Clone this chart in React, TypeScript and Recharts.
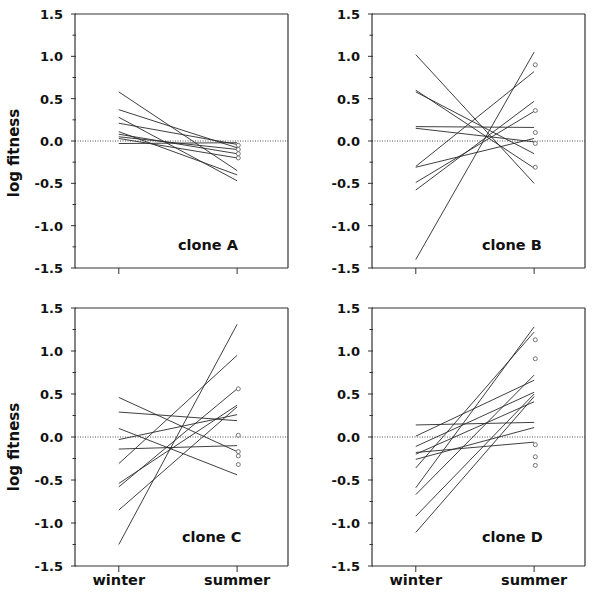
import React from 'react';
import { ComposedChart, Line, Scatter, XAxis, YAxis, ReferenceLine } from 'recharts';

// log fitness of each clone line in winter and in summer
const winterA = [0.58, 0.37, 0.28, 0.21, 0.11, 0.08, 0.05, 0.03, -0.03];
const summerA = [-0.35, -0.08, -0.47, -0.04, -0.4, -0.15, -0.1, -0.2, -0.02];
const pointsA = [-0.05, -0.1, -0.15, -0.2];

const winterB = [1.02, 0.6, 0.58, 0.17, 0.15, -0.3, -0.31, -0.49, -0.58, -1.4];
const summerB = [-0.5, -0.32, -0.15, 0.16, -0.01, 0.82, 0.03, 0.35, 0.47, 1.05];
const pointsB = [0.9, 0.36, 0.1, -0.03, -0.31];

const winterC = [0.46, 0.29, 0.1, -0.03, -0.14, -0.31, -0.54, -0.58, -0.85, -1.25];
const summerC = [-0.17, 0.19, -0.44, 0.26, -0.1, 0.95, 0.37, 0.56, 0.35, 1.31];
const pointsC = [0.56, 0.02, -0.17, -0.22, -0.32];

const winterD = [0.14, 0.01, -0.11, -0.18, -0.2, -0.26, -0.36, -0.59, -0.67, -0.92, -1.11];
const summerD = [0.17, 0.66, 0.52, -0.06, 0.41, 0.11, 1.22, 1.28, 0.72, 0.5, 0.47];
const pointsD = [1.13, 0.91, -0.09, -0.23, -0.33];

const seasons = ['winter', 'summer'];
const yTicks = [-1.5, -1.25, -1, -0.75, -0.5, -0.25, 0, 0.25, 0.5, 0.75, 1, 1.25, 1.5];

const FONT = '"DejaVu Sans", Verdana, sans-serif';
const INK = '#333';
const TICK_SIZE = 4;
const TICK_MARGIN = 8;

const isMajor = (v: number) => Math.abs(v * 2 - Math.round(v * 2)) < 1e-6;

const LeftTick = ({ x, y, payload }: any) => {
  const ax = x + TICK_SIZE + TICK_MARGIN;
  const major = isMajor(payload.value);
  return (
    <g>
      <line x1={ax - (major ? 4 : 2.5)} x2={ax + 1} y1={y} y2={y} stroke={INK} />
      {major && (
        <text x={x} y={y} dy={5} textAnchor='end' fontFamily={FONT} fontWeight='bold' fontSize={13} fill='#111'>
          {payload.value.toFixed(1)}
        </text>
      )}
    </g>
  );
};

const RightTick = ({ x, y, payload }: any) => {
  const ax = x - TICK_SIZE - TICK_MARGIN;
  const major = isMajor(payload.value);
  return <line x1={ax - 1} x2={ax + (major ? 4 : 2.5)} y1={y} y2={y} stroke={INK} />;
};

interface PanelProps {
  name: string;
  winter: number[];
  summer: number[];
  points: number[];
  left: number;
  top: number;
  height: number;
  marginLeft: number;
  marginRight: number;
  marginTop: number;
  xAxisHeight: number;
  showSeason: boolean;
}

function Panel(p: PanelProps) {
  const lines = p.winter.map((w, i) => [
    { x: 0, y: w },
    { x: 1, y: p.summer[i] },
  ]);
  const dots = p.points.map((v) => ({ x: 1.01, y: v }));

  return (
    <div style={{ position: 'absolute', left: p.left, top: p.top }}>
      <ComposedChart
        width={300}
        height={p.height}
        margin={{ top: p.marginTop, right: p.marginRight, left: p.marginLeft, bottom: 0 }}
      >
        <XAxis
          type='number'
          dataKey='x'
          domain={[-0.37, 1.43]}
          ticks={[0, 1]}
          height={p.xAxisHeight}
          tickSize={6}
          tickMargin={3}
          stroke={INK}
          axisLine={{ stroke: INK, strokeWidth: 1.2 }}
          tickLine={{ stroke: INK }}
          tickFormatter={(v: number) => (p.showSeason ? seasons[v] : '')}
          tick={{ fill: '#111', fontFamily: FONT, fontWeight: 'bold', fontSize: 14.5 }}
        />
        <YAxis
          yAxisId='l'
          type='number'
          domain={[-1.5, 1.5]}
          ticks={yTicks}
          width={60}
          tickSize={TICK_SIZE}
          tickMargin={TICK_MARGIN}
          tickLine={false}
          axisLine={{ stroke: INK, strokeWidth: 1.2 }}
          tick={<LeftTick />}
          interval={0}
        />
        <YAxis
          yAxisId='r'
          orientation='right'
          type='number'
          domain={[-1.5, 1.5]}
          ticks={yTicks}
          width={8}
          tickSize={TICK_SIZE}
          tickMargin={TICK_MARGIN}
          tickLine={false}
          axisLine={{ stroke: INK, strokeWidth: 1.2 }}
          tick={<RightTick />}
          interval={0}
        />
        <ReferenceLine yAxisId='l' y={1.5} stroke={INK} strokeWidth={1.2} />
        <ReferenceLine yAxisId='l' y={0} stroke='#555' strokeDasharray='1 1.5' />
        {lines.map((d, i) => (
          <Line
            key={`line-${i}`}
            yAxisId='l'
            data={d}
            dataKey='y'
            stroke='#2a2a2a'
            strokeWidth={0.9}
            dot={false}
            activeDot={false}
            isAnimationActive={false}
          />
        ))}
        <Scatter
          yAxisId='l'
          data={dots}
          dataKey='y'
          isAnimationActive={false}
          shape={(s: any) => <circle cx={s.cx} cy={s.cy} r={2} fill='#fff' stroke='#666' strokeWidth={0.9} />}
        />
      </ComposedChart>
    </div>
  );
}

const labelStyle: React.CSSProperties = {
  position: 'absolute',
  fontFamily: FONT,
  fontWeight: 'bold',
  color: '#111',
  whiteSpace: 'nowrap',
};

export default function App() {
  const panels = [
    { name: 'clone A', winter: winterA, summer: summerA, points: pointsA, left: 0, top: 0 },
    { name: 'clone B', winter: winterB, summer: summerB, points: pointsB, left: 300, top: 0 },
    { name: 'clone C', winter: winterC, summer: summerC, points: pointsC, left: 0, top: 290 },
    { name: 'clone D', winter: winterD, summer: summerD, points: pointsD, left: 300, top: 290 },
  ];

  return (
    <div style={{ position: 'absolute', left: 0, top: 0, width: 600, height: 600, background: '#fff' }}>
      {panels.map((c) => {
        const bottomRow = c.top > 0;
        const rightCol = c.left > 0;
        return (
          <React.Fragment key={c.name}>
            <Panel
              {...c}
              height={bottomRow ? 310 : 290}
              marginLeft={rightCol ? 12 : 15}
              marginRight={rightCol ? 7 : 4}
              marginTop={bottomRow ? 18 : 14}
              xAxisHeight={bottomRow ? 34 : 22}
              showSeason={bottomRow}
            />
            <div
              style={{
                ...labelStyle,
                fontSize: 14.5,
                left: c.left + (rightCol ? 182 : bottomRow ? 182 : 178),
                top: c.top + (bottomRow ? 239 : 237),
              }}
            >
              {c.name}
            </div>
          </React.Fragment>
        );
      })}
      {[153, 447].map((cy) => (
        <div
          key={cy}
          style={{
            ...labelStyle,
            fontSize: 15,
            left: 14,
            top: cy,
            transform: 'translate(-50%, -50%) rotate(-90deg)',
          }}
        >
          log fitness
        </div>
      ))}
    </div>
  );
}
